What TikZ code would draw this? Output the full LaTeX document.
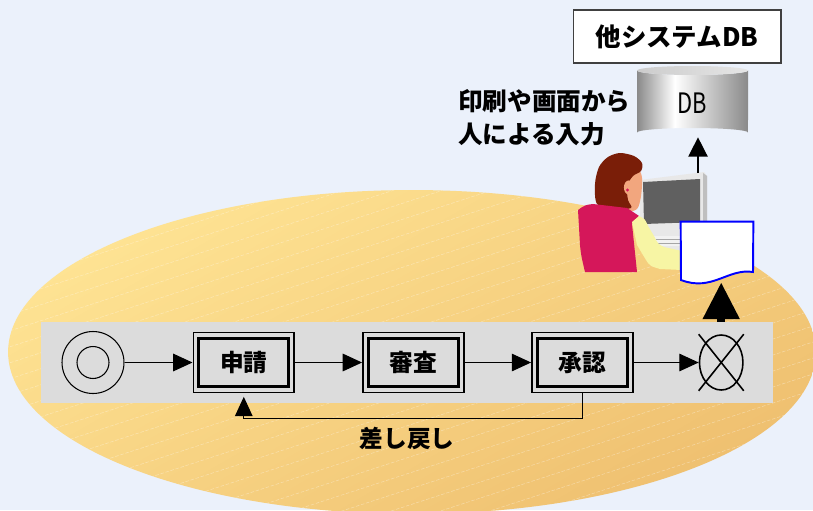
\documentclass[tikz,border=0pt]{standalone}
\usepackage{fontspec}
\setmainfont{Noto Sans CJK JP}
\usepackage{graphicx}
\usepackage{tikz}
\usetikzlibrary{arrows.meta, positioning, shapes.geometric, backgrounds}
\definecolor{PageBlue}{HTML}{EBF1FB}
\definecolor{OvalLight}{HTML}{FEE393}
\definecolor{OvalDeep}{HTML}{EFC070}
\definecolor{BarGray}{HTML}{DCDCDC}
\definecolor{HairBrown}{HTML}{7A1E08}
\definecolor{SkinTone}{HTML}{F2A67E}
\definecolor{VestMagenta}{HTML}{D5175A}
\definecolor{SleeveYellow}{HTML}{F7F5A4}
\definecolor{ScreenGray}{HTML}{606060}
\definecolor{FrameGray}{HTML}{E8E8E8}
\definecolor{DocBlue}{HTML}{0000FF}
\definecolor{DrumEdge}{HTML}{8A8A8A}
\pgfdeclarehorizontalshading{drumbody}{100bp}{color(0bp)=(DrumEdge); color(25bp)=(DrumEdge); color(42bp)=(white); color(75bp)=(DrumEdge); color(100bp)=(DrumEdge)}
\newcommand\stepfont{\fontsize{13.5pt}{16pt}\selectfont\bfseries}
\tikzset{
  % Box styles
  stepbox/.style={rectangle, draw, line width=0.9pt, minimum width=2.02cm, minimum height=1.2cm, font=\stepfont},
  innerframe/.style={line width=1.7pt},
  namebox/.style={rectangle, draw=black!75, fill=white, line width=0.6pt, minimum width=4.16cm, minimum height=1.06cm, font=\fontsize{14.5pt}{17pt}\selectfont\bfseries},
  % Marks
  startmark/.style={circle, draw, line width=0.6pt, minimum size=1.24cm},
  endmark/.style={ellipse, draw, line width=0.9pt, minimum width=0.87cm, minimum height=1.1cm},
  % Arrow styles
  flowarrow/.style={-{Triangle[length=11pt, width=10pt]}, line width=0.6pt},
  bigarrow/.style={-{Triangle[length=21pt, width=20pt]}, line width=4.5pt},
  dbarrow/.style={-{Triangle[length=11pt, width=11pt]}, line width=0.8pt},
  % Text styles
  notetext/.style={font=\fontsize{14pt}{18.8pt}\selectfont\bfseries, align=left}
}

\begin{document}
\begin{tikzpicture}[x=0.02cm, y=-0.02cm]
  \useasboundingbox (0,0) rectangle (813,510);

  % Workflow
  \node[startmark] (start) at (93,362.5) {};
  \node[circle, draw, line width=0.6pt, minimum size=0.64cm] (startcore) at (start) {};
  \node[stepbox, right=1.36cm of start] (shinsei) {申請};
  \node[stepbox, right=1.34cm of shinsei] (shinsa) {審査};
  \node[stepbox, right=1.33cm of shinsa] (shonin) {承認};
  \node[endmark, right=1.3cm of shonin] (finish) {};
  \draw[line width=0.9pt] (finish.west |- finish.north) -- (finish.east |- finish.south);
  \draw[line width=0.9pt] (finish.east |- finish.north) -- (finish.west |- finish.south);
  \foreach \s in {shinsei, shinsa, shonin}
    \draw[innerframe] ([shift={(3.6pt,3.6pt)}]\s.south west) rectangle ([shift={(-3.6pt,-3.6pt)}]\s.north east);

  \draw[flowarrow] (startcore -| start.east) -- (shinsei);
  \draw[flowarrow] (shinsei) -- (shinsa);
  \draw[flowarrow] (shinsa) -- (shonin);
  \draw[flowarrow] (shonin) -- (finish);

  % Send back
  \draw[flowarrow, shorten >=2pt] (shonin.south) -- ++(0,25) -| (shinsei.south);
  \node[font=\stepfont] (modoshi) at (407,438) {差し戻し};

  % Output slip
  \node[minimum width=1.44cm, minimum height=1.2cm] (doc) at (717,252) {};

  % Operator at the terminal
  \fill[FrameGray] (640,180) -- (704,172) -- (707,176) -- (707,245) -- (700,250) -- (646,252) -- (640,244) -- cycle;
  \fill[black!25] (703,173) -- (707,176) -- (707,245) -- (703,247) -- cycle;
  \fill[ScreenGray] (643,182) -- (700,179) -- (700,222) -- (644,224) -- cycle;
  \fill[white!95!black] (654,236) rectangle (682,246);
  \draw[black!35, line width=0.3pt] (656,239) -- (680,239) (656,243) -- (680,243);
  \fill[SkinTone] plot[smooth cycle] coordinates {(624,176) (638,170) (642,178) (641,196) (637,209) (626,209)};
  \fill[HairBrown] plot[smooth cycle] coordinates {(597,204) (595,184) (599,167) (608,157) (620,153) (634,156) (642,163) (641,171) (633,176) (627,186) (628,200) (631,208) (613,209)};
  \fill[SkinTone] (628.5,187.5) ellipse [x radius=2.6pt, y radius=4pt];
  \fill[VestMagenta] (627.5,190) circle [radius=0.9pt];
  \fill[VestMagenta] (578,210) .. controls (585,205) .. (593,204) -- (627,208) -- (639,216) -- (632,224) -- (637,272) -- (585,272) .. controls (581,255) .. (580,245) -- cycle;
  \fill[SleeveYellow] (632,222) -- (639,216) .. controls (645,219) .. (648,226) -- (654,236) .. controls (658,244) .. (664,247) -- (682,251) -- (682,270) -- (660,269) .. controls (650,266) .. (646,260) -- (637,245) -- cycle;

  \filldraw[fill=white, draw=DocBlue, line width=1.1pt] (doc.north west) -- (doc.north east) -- (753,272) .. controls (728,268) and (712,292) .. (681,280) -- cycle;

  % Database of the other system
  \node[minimum width=2.22cm, minimum height=1.34cm] (db) at (692.5,103.5) {};
  \shade[shading=drumbody] (637,70.5) -- (637,132.5) arc [start angle=180, end angle=360, x radius=1.11cm, y radius=-0.09cm] -- (748,70.5) arc [start angle=0, end angle=180, x radius=1.11cm, y radius=-0.09cm] -- cycle;
  \shade[left color=black!20, right color=black!10] (692.5,70.5) ellipse [x radius=1.11cm, y radius=0.09cm];
  \node[font=\fontsize{16pt}{19pt}\selectfont] at (db) {\scalebox{0.78}[1]{DB}};
  \node[namebox] (sysname) at (677,36.5) {他システムDB};
  \coordinate (pc) at (698,173);
  \draw[dbarrow] (pc) -- (pc |- db.south);
  \node[notetext, anchor=west] (inputnote) at (452,118) {印刷や画面から\\人による入力};

  \begin{scope}[on background layer]
    \fill[PageBlue] (0,0) rectangle (813,510);
    \shade[top color=OvalLight, bottom color=OvalDeep, shading angle=30] (412,352) ellipse [x radius=8.08cm, y radius=3.24cm];
    \begin{scope}
      \clip (412,352) ellipse [x radius=8.08cm, y radius=3.24cm];
      \foreach \c in {190,206,...,800}
        \draw[white, opacity=0.35, line width=0.3pt, dash pattern=on 2pt off 1pt] (0,\c) -- (813,\c-264);
    \end{scope}
    \draw[bigarrow] (finish.north) -- (finish.north |- doc.south);
    \fill[BarGray] (41,322) rectangle (773,403);
  \end{scope}
\end{tikzpicture}
\end{document}
